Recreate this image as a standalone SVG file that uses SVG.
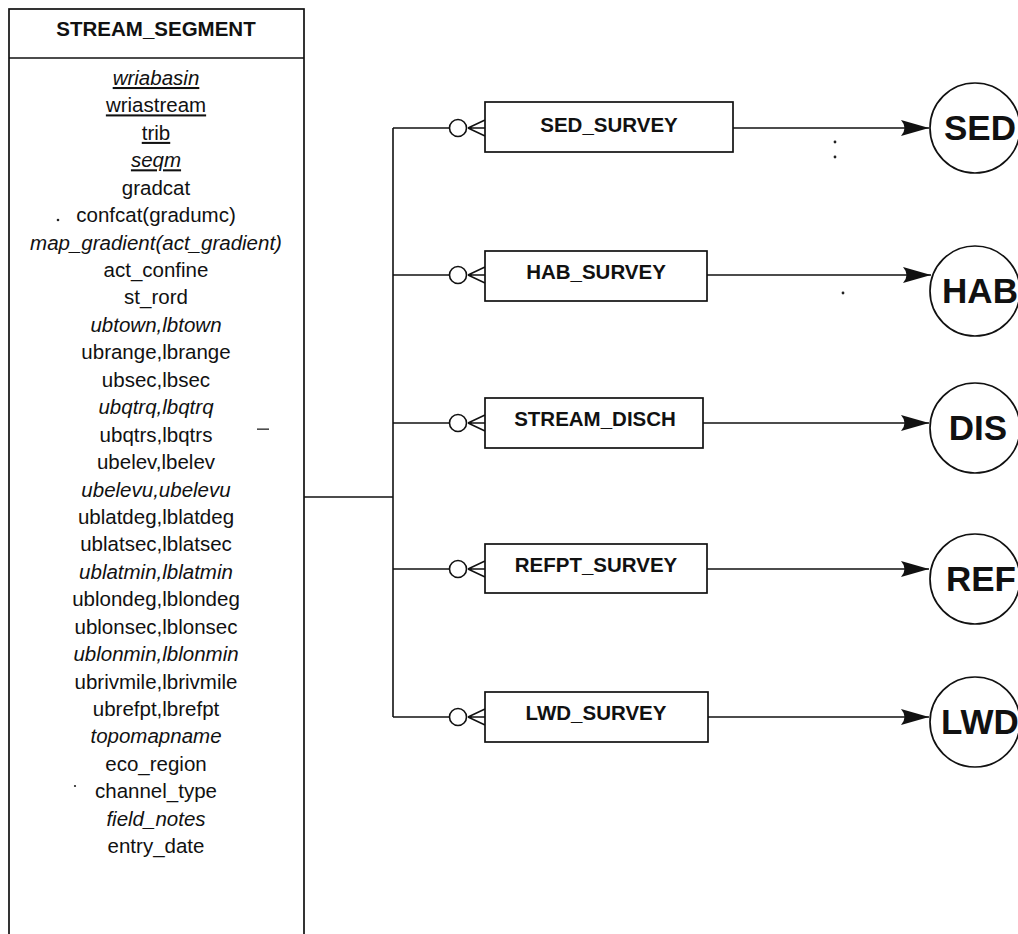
<svg xmlns="http://www.w3.org/2000/svg" width="1018" height="934" viewBox="0 0 1018 934">
  <style>
    .frame { fill: #fff; stroke: #111; stroke-width: 1.7; }
    .wire { fill: none; stroke: #111; stroke-width: 1.6; }
    .attr { font-family: "Liberation Sans", Arial, sans-serif; font-size: 20.5px; fill: #111; text-anchor: middle; }
    .it { font-style: italic; }
    .key { text-decoration: underline; }
    .title { font-family: "Liberation Sans", Arial, sans-serif; font-size: 20.5px; font-weight: bold; fill: #111; text-anchor: middle; }
    .code { font-family: "Liberation Sans", Arial, sans-serif; font-size: 35px; font-weight: bold; fill: #111; text-anchor: middle; }
    .speck { fill: #222; stroke: none; }
  </style>
  <defs>
    <marker id="arrow" viewBox="-30 -10 32 20" refX="0" refY="0" markerWidth="32" markerHeight="20" markerUnits="userSpaceOnUse" orient="auto">
      <path d="M0,0 L-28,-8 Q-21,0 -28,8 Z" fill="#111"/>
    </marker>
    <!-- optional-many end: ring plus crow's foot opening onto the box edge at x=0 -->
    <g id="zero-many">
      <circle cx="-27" cy="0" r="8.5" fill="#fff" stroke="#111" stroke-width="1.6"/>
      <path d="M-17,0 L0,-8 M-17,0 L0,0 M-17,0 L0,8" fill="none" stroke="#111" stroke-width="1.5"/>
    </g>
  </defs>

  <rect width="1018" height="934" fill="#fff"/>

  <!-- parent entity with its attribute list -->
  <g id="stream_segment">
    <rect class="frame" x="9" y="9" width="295" height="940"/>
    <line class="wire" x1="9" y1="58" x2="304" y2="58"/>
    <text class="title" x="156" y="36">STREAM_SEGMENT</text>
    <text class="attr it key" x="156" y="85">wriabasin</text>
    <text class="attr key" x="156" y="112.4">wriastream</text>
    <text class="attr key" x="156" y="139.9">trib</text>
    <text class="attr it key" x="156" y="167.3">seqm</text>
    <text class="attr" x="156" y="194.7">gradcat</text>
    <text class="attr" x="156" y="222.2">confcat(gradumc)</text>
    <text class="attr it" x="156" y="249.6">map_gradient(act_gradient)</text>
    <text class="attr" x="156" y="277">act_confine</text>
    <text class="attr" x="156" y="304.4">st_rord</text>
    <text class="attr it" x="156" y="331.9">ubtown,lbtown</text>
    <text class="attr" x="156" y="359.3">ubrange,lbrange</text>
    <text class="attr" x="156" y="386.7">ubsec,lbsec</text>
    <text class="attr it" x="156" y="414.2">ubqtrq,lbqtrq</text>
    <text class="attr" x="156" y="441.6">ubqtrs,lbqtrs</text>
    <text class="attr" x="156" y="469">ubelev,lbelev</text>
    <text class="attr it" x="156" y="496.5">ubelevu,ubelevu</text>
    <text class="attr" x="156" y="523.9">ublatdeg,lblatdeg</text>
    <text class="attr" x="156" y="551.3">ublatsec,lblatsec</text>
    <text class="attr it" x="156" y="578.7">ublatmin,lblatmin</text>
    <text class="attr" x="156" y="606.2">ublondeg,lblondeg</text>
    <text class="attr" x="156" y="633.6">ublonsec,lblonsec</text>
    <text class="attr it" x="156" y="661">ublonmin,lblonmin</text>
    <text class="attr" x="156" y="688.5">ubrivmile,lbrivmile</text>
    <text class="attr" x="156" y="715.9">ubrefpt,lbrefpt</text>
    <text class="attr it" x="156" y="743.3">topomapname</text>
    <text class="attr" x="156" y="770.8">eco_region</text>
    <text class="attr" x="156" y="798.2">channel_type</text>
    <text class="attr it" x="156" y="825.6">field_notes</text>
    <text class="attr" x="156" y="853">entry_date</text>
  </g>

  <!-- connectors: trunk from the parent, branches to the survey tables, arrows to the codes -->
  <g id="connectors">
    <path class="wire" d="M304,497 H393"/>
    <path class="wire" d="M393,128 V717"/>
    <path class="wire" d="M393,128 H449.5"/>
    <path class="wire" d="M393,275 H449.5"/>
    <path class="wire" d="M393,423 H449.5"/>
    <path class="wire" d="M393,569 H449.5"/>
    <path class="wire" d="M393,717 H449.5"/>
    <use href="#zero-many" x="485" y="128"/>
    <use href="#zero-many" x="485" y="275"/>
    <use href="#zero-many" x="485" y="423"/>
    <use href="#zero-many" x="485" y="569"/>
    <use href="#zero-many" x="485" y="717"/>
    <path class="wire" d="M733,128 H929" marker-end="url(#arrow)"/>
    <path class="wire" d="M707,275 H931" marker-end="url(#arrow)"/>
    <path class="wire" d="M703,423 H929" marker-end="url(#arrow)"/>
    <path class="wire" d="M707,569 H929" marker-end="url(#arrow)"/>
    <path class="wire" d="M708,717 H929" marker-end="url(#arrow)"/>
  </g>

  <!-- child tables -->
  <g id="sed_survey">
    <rect class="frame" x="485" y="102" width="248" height="50"/>
    <text class="title" x="609" y="132">SED_SURVEY</text>
  </g>
  <g id="hab_survey">
    <rect class="frame" x="485" y="251" width="222" height="50"/>
    <text class="title" x="596" y="279">HAB_SURVEY</text>
  </g>
  <g id="stream_disch">
    <rect class="frame" x="485" y="398" width="218" height="50"/>
    <text class="title" x="595" y="426">STREAM_DISCH</text>
  </g>
  <g id="refpt_survey">
    <rect class="frame" x="485" y="544" width="222" height="49"/>
    <text class="title" x="596" y="572">REFPT_SURVEY</text>
  </g>
  <g id="lwd_survey">
    <rect class="frame" x="485" y="692" width="223" height="50"/>
    <text class="title" x="596" y="720">LWD_SURVEY</text>
  </g>

  <!-- code tables -->
  <g id="sed">
    <circle class="frame" cx="975" cy="128" r="45"/>
    <text class="code" x="980" y="140">SED</text>
  </g>
  <g id="hab">
    <circle class="frame" cx="975" cy="291" r="45"/>
    <text class="code" x="980" y="303">HAB</text>
  </g>
  <g id="dis">
    <circle class="frame" cx="975" cy="428" r="45"/>
    <text class="code" x="978" y="440">DIS</text>
  </g>
  <g id="ref">
    <circle class="frame" cx="975" cy="579" r="45"/>
    <text class="code" x="981" y="591">REF</text>
  </g>
  <g id="lwd">
    <circle class="frame" cx="975" cy="722" r="45"/>
    <text class="code" x="980" y="734">LWD</text>
  </g>

  <!-- stray marks on the sheet -->
  <g id="specks">
    <circle class="speck" cx="58" cy="220" r="1.3"/>
    <rect class="speck" x="257" y="428.5" width="12" height="1.3"/>
    <circle class="speck" cx="835" cy="142" r="1.4"/>
    <circle class="speck" cx="835" cy="157" r="1.4"/>
    <circle class="speck" cx="843" cy="293" r="1.4"/>
    <circle class="speck" cx="75" cy="786" r="1.1"/>
  </g>
</svg>
